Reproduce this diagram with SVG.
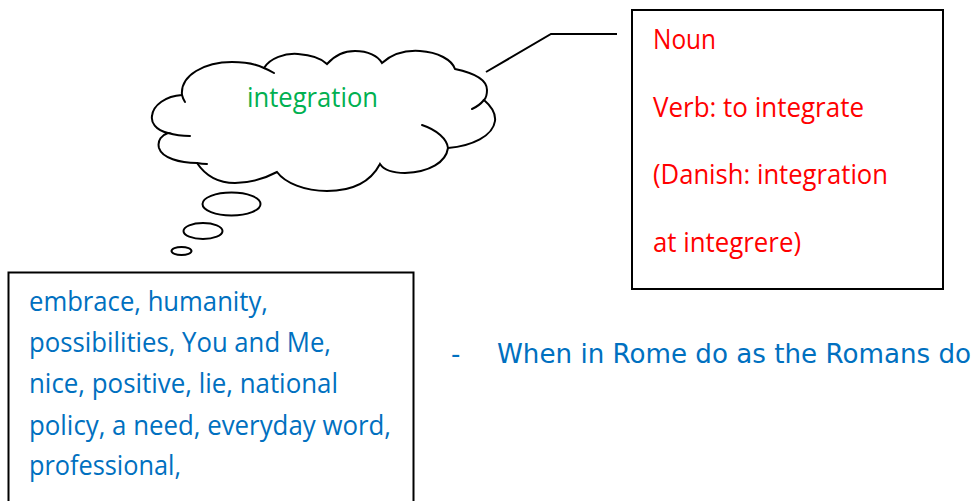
<svg xmlns="http://www.w3.org/2000/svg" width="979" height="501" viewBox="0 0 979 501">
  <style>
    .shape { fill: #ffffff; stroke: #000000; stroke-width: 2; }
    .hook { fill: none; stroke: #000000; stroke-width: 2; stroke-linecap: round; }
    .box { fill: #ffffff; stroke: #000000; stroke-width: 2; }
    .conn { fill: none; stroke: #000000; stroke-width: 2; }
    .cal { font-family: "Open Sans", "Noto Sans", "Liberation Sans", sans-serif; font-size: 26.5px; }
    .tah { font-family: "DejaVu Sans", "Liberation Sans", sans-serif; font-size: 26px; fill: #0070C0; }
    .green { fill: #00B050; }
    .red { fill: #FF0000; }
    .blue { fill: #0070C0; }
  </style>

  <!-- callout line from the cloud to the word-class box -->
  <g id="connectors">
    <polyline class="conn" points="486,72 551,34 617,34"/>
  </g>

  <!-- thought cloud -->
  <g id="cloud">
    <path class="shape" d="M 182,95
      C 180,75 205,62 232,62 C 248,62 258,65 264,68
      C 270,58 285,53 298,54 C 312,55 322,59 327,64
      C 335,55 345,51 355,51 C 368,51 378,56 382,63
      C 392,54 405,50 420,51 C 438,52 452,60 455,69
      C 474,73 487,80 487,90 C 487,95 486,98 484,100
      C 491,106 496,113 495,121 C 493,136 472,146 448,148
      C 446,162 430,172 405,173 C 392,173 384,170 380,164
      C 370,183 350,191 327,191 C 305,191 285,183 277,172
      C 262,180 248,183 235,183 C 218,183 205,175 197,163
      C 180,163 162,158 159,148 C 157,140 162,135 168,133
      C 155,130 151,122 152,116 C 153,105 166,96 182,95 Z"/>
    <path class="hook" d="M 182,95 Q 183,99 185,102"/>
    <path class="hook" d="M 264,68 Q 269,70 274,73"/>
    <path class="hook" d="M 484,100 Q 479,106 472,109"/>
    <path class="hook" d="M 422,125 C 437,130 447,139 448,148"/>
    <path class="hook" d="M 168,133 Q 178,136 190,136"/>
    <path class="hook" d="M 197,163 Q 202,164 207,164"/>
    <text class="cal green" x="247" y="107" textLength="131" lengthAdjust="spacingAndGlyphs">integration</text>
  </g>

  <!-- thought bubbles -->
  <g id="bubbles">
    <ellipse class="shape" cx="231.5" cy="204" rx="29" ry="11.5"/>
    <ellipse class="shape" cx="203" cy="231" rx="19.5" ry="8"/>
    <ellipse class="shape" cx="181.5" cy="251" rx="10" ry="4"/>
  </g>

  <!-- word class box -->
  <g id="word-class">
    <rect class="box" x="632" y="10" width="311" height="279"/>
    <text class="cal red" x="653" y="49" textLength="63" lengthAdjust="spacingAndGlyphs">Noun</text>
    <text class="cal red" x="653" y="117" textLength="211" lengthAdjust="spacingAndGlyphs">Verb: to integrate</text>
    <text class="cal red" x="653" y="184" textLength="235" lengthAdjust="spacingAndGlyphs">(Danish: integration</text>
    <text class="cal red" x="653" y="252" textLength="148" lengthAdjust="spacingAndGlyphs">at integrere)</text>
  </g>

  <!-- associations box -->
  <g id="associations">
    <rect class="box" x="8.5" y="272.5" width="405" height="240"/>
    <text class="cal blue" x="29" y="311" textLength="239" lengthAdjust="spacingAndGlyphs">embrace, humanity,</text>
    <text class="cal blue" x="29" y="352" textLength="302" lengthAdjust="spacingAndGlyphs">possibilities, You and Me,</text>
    <text class="cal blue" x="29" y="393" textLength="309" lengthAdjust="spacingAndGlyphs">nice, positive, lie, national</text>
    <text class="cal blue" x="29" y="435" textLength="362" lengthAdjust="spacingAndGlyphs">policy, a need, everyday word,</text>
    <text class="cal blue" x="29" y="475" textLength="152" lengthAdjust="spacingAndGlyphs">professional,</text>
  </g>

  <!-- saying -->
  <g id="saying">
    <text class="tah" x="451" y="363">-</text>
    <text class="tah" x="497" y="363" textLength="474" lengthAdjust="spacingAndGlyphs">When in Rome do as the Romans do</text>
  </g>
</svg>
